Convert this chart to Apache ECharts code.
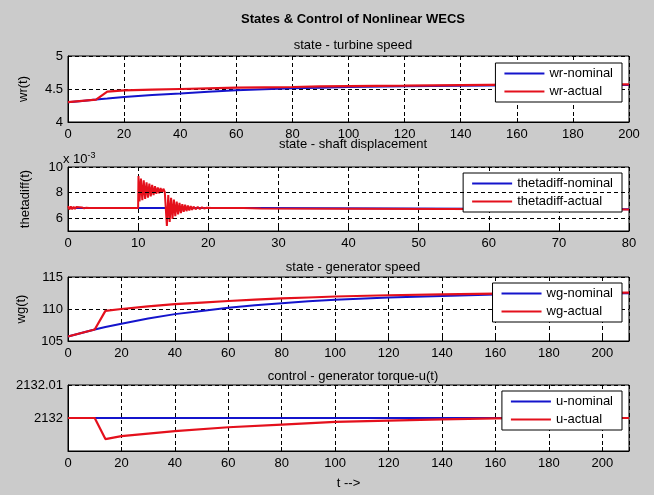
<!DOCTYPE html>
<html><head><meta charset="utf-8">
<script src="https://cdn.jsdelivr.net/npm/echarts@6/dist/echarts.min.js"></script>
<style>html,body{margin:0;padding:0;background:#cbcbcb}#c{width:654px;height:495px}</style>
</head><body><div id="c"></div>
<script>
// ---- Panel 1: turbine speed ----
const wrTime    = [0, 5, 10, 12, 14, 20, 30, 40, 50, 60, 70, 80, 90, 100, 120, 140, 160, 180, 200];
const wrNominal = [4.30, 4.32, 4.34, 4.35, 4.355, 4.38, 4.41, 4.43, 4.46, 4.48, 4.495, 4.51, 4.52, 4.53, 4.54, 4.55, 4.555, 4.56, 4.56];
const wrActual  = [4.30, 4.32, 4.34, 4.40, 4.46, 4.48, 4.49, 4.50, 4.51, 4.52, 4.525, 4.53, 4.54, 4.545, 4.55, 4.56, 4.565, 4.565, 4.57];
const wrXTicks  = [0, 200, 20];   // min, max, step
const wrYTicks  = [4, 5, 0.5];

// ---- Panel 2: shaft displacement (x 10^-3) ----
const thNomTime  = [0, 27.5, 27.6, 80];
const thNominal  = [6.8, 6.8, 6.7, 6.7];
const thActTime  = [0, 0.2, 0.4, 0.6, 0.8, 1.0, 1.2, 1.4, 1.6, 1.8, 2.0, 2.3, 2.6, 3.0, 10.0,
                    10.05, 10.2, 10.4, 10.6, 10.8, 11.0, 11.2, 11.4, 11.6, 11.8, 12.0, 12.2, 12.4, 12.6, 12.8,
                    13.0, 13.2, 13.4, 13.6, 13.8, 14.0, 14.1, 14.3, 14.5, 14.7, 14.9, 15.1, 15.3, 15.5, 15.7,
                    15.9, 16.1, 16.3, 16.5, 16.7, 16.9, 17.1, 17.3, 17.5, 17.7, 17.9, 18.2, 18.5, 18.8, 19.1,
                    19.4, 19.8, 20.5, 25.0, 25.1, 27.5, 27.6, 80];
const thActual   = [6.95, 6.68, 6.92, 6.70, 6.90, 6.72, 6.88, 6.74, 6.86, 6.75, 6.84, 6.77, 6.82, 6.80, 6.80,
                    9.30, 7.30, 9.10, 7.40, 8.95, 7.50, 8.80, 7.60, 8.70, 7.70, 8.60, 7.80, 8.50, 7.90, 8.40,
                    7.95, 8.35, 8.00, 8.30, 8.05, 8.20, 5.40, 7.80, 5.70, 7.60, 5.95, 7.45, 6.15, 7.30, 6.30,
                    7.20, 6.40, 7.10, 6.50, 7.05, 6.55, 7.00, 6.60, 6.95, 6.65, 6.90, 6.70, 6.88, 6.72, 6.85,
                    6.76, 6.82, 6.80, 6.80, 6.75, 6.75, 6.68, 6.68];
const thXTicks   = [0, 80, 10];
const thYGrid    = [6, 8, 10];

// ---- Panel 3: generator speed ----
const wgTime    = [0, 10, 14, 20, 30, 40, 50, 60, 70, 80, 90, 100, 120, 140, 160, 180, 210];
const wgNominal = [105.7, 106.8, 107.2, 107.7, 108.5, 109.2, 109.7, 110.2, 110.6, 110.9, 111.2, 111.45, 111.8, 112.05, 112.25, 112.35, 112.45];
const wgActual  = [105.7, 106.8, 109.7, 110.0, 110.4, 110.75, 111.0, 111.25, 111.45, 111.65, 111.8, 111.95, 112.15, 112.3, 112.4, 112.45, 112.55];
const wgXTicks  = [0, 210, 20];
const wgYTicks  = [105, 115, 5];

// ---- Panel 4: generator torque ----
const uNomTime  = [0, 210];
const uNominal  = [2132, 2132];
const uActTime  = [0, 10, 14, 20, 40, 60, 80, 100, 120, 140, 160, 180, 210];
const uActual   = [2132, 2132, 2131.9936, 2131.9945, 2131.9960, 2131.9972, 2131.9980, 2131.9988, 2131.9992, 2131.9996, 2131.9999, 2132, 2132];
const uYTicks   = [2131.99, 2132.01, 0.01];

const FONT = '"Liberation Sans", Arial, sans-serif';
const BLUE = '#1414cc', RED = '#e4101c';
const zip = (t, v) => t.map((x, i) => [x, v[i]]);

const grids = [
  {left: 68, width: 561, top: 56, height: 66},
  {left: 68, width: 561, top: 167, height: 64},
  {left: 68, width: 561, top: 277, height: 64},
  {left: 68, width: 561, top: 385, height: 66}
].map(g => Object.assign(g, {show: true, backgroundColor: '#fff', borderColor: '#000', borderWidth: 1}));

const lbl = {color: '#000', fontFamily: FONT, fontSize: 13};
const dash = {show: true, lineStyle: {color: '#000', type: [4, 3], width: 1}};
function xAx(i, tk, extra) {
  return Object.assign({
    type: 'value', gridIndex: i, min: tk[0], max: tk[1], interval: tk[2],
    axisLine: {show: true, lineStyle: {color: '#000'}},
    axisTick: {show: true, inside: true, length: 4, lineStyle: {color: '#000'}},
    axisLabel: Object.assign({margin: 6, formatter: v => (v % tk[2] === 0 ? String(v) : '')}, lbl),
    splitLine: dash
  }, extra || {});
}
function yAx(i, opts) {
  return Object.assign({
    type: 'value', gridIndex: i,
    axisLine: {show: true, lineStyle: {color: '#000'}},
    axisTick: {show: true, inside: true, length: 4, lineStyle: {color: '#000'}},
    axisLabel: Object.assign({margin: 5}, lbl),
    splitLine: dash,
    nameLocation: 'middle', nameGap: 34, nameRotate: 90,
    nameTextStyle: {color: '#000', fontFamily: FONT, fontSize: 13}
  }, opts);
}
function line(name, i, data, color, w, z) {
  return {name, type: 'line', xAxisIndex: i, yAxisIndex: i, data, showSymbol: false, symbol: 'none',
    lineStyle: {color, width: w}, itemStyle: {color}, z, animation: false};
}
function leg(names, top, right) {
  return {data: names, orient: 'vertical', top, right, icon: 'rect', itemWidth: 40, itemHeight: 2,
    itemGap: 5, padding: [4, 9, 4, 9], backgroundColor: '#fff', borderColor: '#000', borderWidth: 1,
    borderRadius: 0, selectedMode: false, textStyle: {color: '#000', fontFamily: FONT, fontSize: 13}};
}
function ttl(text, top, bold) {
  return {text, left: 348, top, textAlign: 'center',
    textStyle: {color: '#000', fontFamily: FONT, fontSize: 13, fontWeight: bold ? 'bold' : 'normal'}};
}

const thNomSeries = line('thetadiff-nominal', 1, zip(thNomTime, thNominal), BLUE, 2, 2);
thNomSeries.markLine = {silent: true, symbol: 'none', label: {show: false}, animation: false,
  lineStyle: {color: '#000', type: [4, 3], width: 1}, data: thYGrid.map(v => ({yAxis: v}))};

const option = {
  backgroundColor: '#cbcbcb',
  animation: false,
  title: [
    ttl('States & Control of Nonlinear WECS', 8, true),
    ttl('state - turbine speed', 34),
    ttl('state - shaft displacement', 133),
    ttl('state - generator speed', 256),
    ttl('control - generator torque-u(t)', 365),
    {text: '{a|x 10}{b|-3}', left: 58, top: 146,
     textStyle: {fontWeight: 'normal',
                 rich: {a: {fontFamily: FONT, fontSize: 13, color: '#000', fontWeight: 'normal'},
                        b: {fontFamily: FONT, fontSize: 9, color: '#000', fontWeight: 'normal', padding: [0, 0, 8, 0]}}}}
  ],
  grid: grids,
  xAxis: [
    xAx(0, wrXTicks),
    xAx(1, thXTicks),
    xAx(2, wgXTicks),
    xAx(3, wgXTicks, {name: 't -->', nameLocation: 'middle', nameGap: 26,
       nameTextStyle: {color: '#000', fontFamily: FONT, fontSize: 13}})
  ],
  yAxis: [
    yAx(0, {min: wrYTicks[0], max: wrYTicks[1], interval: wrYTicks[2], name: 'wr(t)', nameGap: 38}),
    yAx(1, {min: 5, max: 10, interval: 1, name: 'thetadiff(t)', nameGap: 36,
       axisLabel: Object.assign({margin: 5, formatter: v => (thYGrid.indexOf(v) >= 0 ? String(v) : '')}, lbl),
       axisTick: {show: false}, splitLine: {show: false}}),
    yAx(2, {min: wgYTicks[0], max: wgYTicks[1], interval: wgYTicks[2], name: 'wg(t)', nameGap: 40}),
    yAx(3, {min: uYTicks[0], max: uYTicks[1], interval: uYTicks[2],
       axisLabel: Object.assign({margin: 5, formatter: v => (v > 2132.005 ? '2132.01' : (Math.abs(v - 2132) < 0.001 ? '2132' : ''))}, lbl)})
  ],
  legend: [
    leg(['wr-nominal', 'wr-actual'], 63, 32),
    leg(['thetadiff-nominal', 'thetadiff-actual'], 173, 32),
    leg(['wg-nominal', 'wg-actual'], 283, 32),
    leg(['u-nominal', 'u-actual'], 391, 32)
  ],
  series: [
    line('wr-nominal', 0, zip(wrTime, wrNominal), BLUE, 2, 2),
    line('wr-actual', 0, zip(wrTime, wrActual), RED, 2.2, 3),
    thNomSeries,
    line('thetadiff-actual', 1, zip(thActTime, thActual), RED, 2, 3),
    line('wg-nominal', 2, zip(wgTime, wgNominal), BLUE, 2, 2),
    line('wg-actual', 2, zip(wgTime, wgActual), RED, 2.2, 3),
    line('u-nominal', 3, zip(uNomTime, uNominal), BLUE, 2, 2),
    line('u-actual', 3, zip(uActTime, uActual), RED, 2.2, 3)
  ]
};
const chart = echarts.init(document.getElementById('c'), null, {renderer: 'canvas'});
chart.setOption(option);
</script></body></html>
